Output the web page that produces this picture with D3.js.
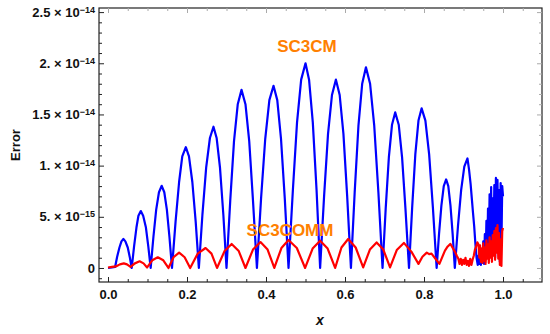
<!DOCTYPE html>
<html><head><meta charset="utf-8">
<script src="https://cdn.jsdelivr.net/npm/d3@7"></script>
<style>
html,body{margin:0;padding:0;background:#fff;}
svg{display:block;font-family:"Liberation Sans",Arial,sans-serif;}
</style></head>
<body><svg id="chart" width="550" height="334"></svg>
<script>
// ---- data (errors in units of 1e-15) ----
const xTickValues = [0, 0.2, 0.4, 0.6, 0.8, 1.0];
const xTickLabels = ["0.0", "0.2", "0.4", "0.6", "0.8", "1.0"];
const xMinorValues = [0.05,0.1,0.15,0.25,0.3,0.35,0.45,0.5,0.55,0.65,0.7,0.75,0.85,0.9,0.95,1.05];
const yTickValues = [0, 5, 10, 15, 20, 25];
const yTickMantissa = ["0", "5.", "1.", "1.5", "2.", "2.5"];
const yTickExponent = ["", "−15", "−14", "−14", "−14", "−14"];
const yMinorValues = [-1,1,2,3,4,6,7,8,9,11,12,13,14,16,17,18,19,21,22,23,24];
const seriesNames = ["SC3CM", "SC3COMM"];

const sc3cmX = [0,0.010,0.018,0.023,0.029,0.034,0.039,0.044,0.050,0.055,0.060,
 0.066,0.072,0.077,0.083,0.089,0.096,0.102,0.108,
 0.115,0.122,0.129,0.136,0.1425,0.149,0.1555,0.162,
 0.171,0.180,0.188,0.197,0.205,0.2135,0.222,0.230,
 0.239,0.2485,0.258,0.267,0.275,0.2835,0.292,0.300,
 0.3095,0.319,0.3285,0.338,0.348,0.3575,0.367,0.377,
 0.3875,0.398,0.4085,0.419,0.4285,0.438,0.4475,0.457,
 0.468,0.4785,0.489,0.500,0.509,0.5185,0.528,0.537,
 0.547,0.557,0.567,0.577,0.5865,0.596,0.6055,0.615,
 0.6245,0.634,0.6435,0.653,0.6635,0.674,0.6845,0.695,
 0.703,0.711,0.719,0.727,0.736,0.7445,0.753,0.762,
 0.770,0.778,0.786,0.794,0.8035,0.813,0.8225,0.832,
 0.838,0.844,0.850,0.856,0.8615,0.867,0.8725,0.878,
 0.886,0.894,0.902,0.910,0.914,0.918,0.921,0.924,0.927,0.930,0.933,0.936,
 0.938,0.940,0.942,0.944,0.946,0.948,0.950,0.952,0.954,0.956,0.958,0.960,0.962,0.964,0.966,0.968,
 0.970,0.972,0.974,0.976,0.978,0.980,0.982,0.984,0.986,0.988,0.990,0.992,0.994,0.996,0.998,1.000];
const sc3cmY = [0,0.05,0.1,1.08,2.0,2.6,2.83,2.6,2.0,1.08,0,
 2.1,3.95,5.1,5.56,5.1,3.95,2.1,0,
 3.05,5.7,7.4,8.03,7.4,5.7,3.05,0,
 4.5,8.4,10.9,11.8,10.9,8.4,4.5,0,
 5.2,9.8,12.7,13.8,12.7,9.8,5.2,0,
 6.6,12.4,16.0,17.4,16.0,12.4,6.6,0,
 6.8,12.6,16.4,17.8,16.4,12.6,6.8,0,
 7.6,14.2,18.4,20.0,18.4,14.2,7.6,0,
 7.0,13.1,16.9,18.4,16.9,13.1,7.0,0,
 7.4,13.9,18.0,19.6,18.0,13.9,7.4,0,
 5.8,10.8,14.0,15.2,14.0,10.8,5.8,0,
 5.9,11.1,14.4,15.6,14.4,11.1,5.9,0,
 3.3,6.1,8.0,8.65,8.0,6.1,3.3,0,
 4.1,7.6,9.9,10.7,9.6,8.2,6.8,5.4,4.1,2.4,1.0,0.3,
 1.2,0.4,2.0,0.3,1.5,0.5,2.6,0.4,3.3,0.8,4.6,1.0,5.8,1.5,7.2,2.0,
 7.9,1.2,6.8,2.5,8.1,1.0,8.8,3.0,8.6,1.8,7.6,0.6,8.3,2.2,8.0,7.0];

const sc3commX = [0,0.010,0.020,0.030,0.040,0.048,0.057,0.068,0.080,0.090,0.099,
 0.112,0.126,0.140,0.153,0.166,0.180,0.194,0.208,0.227,0.247,0.262,0.276,
 0.295,0.313,0.331,0.348,0.367,0.386,0.404,0.421,0.439,0.457,0.478,0.499,
 0.518,0.537,0.556,0.575,0.591,0.608,0.627,0.646,0.663,0.680,0.697,0.714,
 0.731,0.749,0.768,0.786,0.796,0.807,0.813,0.819,0.829,0.839,
 0.853,0.860,0.867,0.872,0.878,0.883,0.887,
 0.890,0.893,0.896,0.899,0.902,0.905,0.908,0.911,0.914,0.917,0.920,0.923,0.926,0.929,0.932,0.935,0.938,
 0.940,0.942,0.944,0.946,0.948,0.950,0.952,0.954,0.956,0.958,0.960,0.962,0.964,0.966,0.968,0.970,
 0.972,0.974,0.976,0.978,0.980,0.982,0.984,0.986,0.988,0.990,0.992,0.994,0.996,0.998,1.000];
const sc3commY = [0.05,0.1,0.15,0.35,0.45,0.35,0.1,0.45,0.65,0.45,0.05,
 0.75,1.04,0.75,0.0,1.05,1.5,1.05,0,1.4,1.95,1.4,0,
 1.65,2.34,1.65,0,1.8,2.53,1.8,0,1.95,2.73,1.95,0,
 1.9,2.67,1.9,0,2.0,2.83,2.0,0.05,1.8,2.5,1.8,0.05,
 1.75,2.45,1.6,0.4,1.1,1.5,1.35,1.4,0.9,0.4,
 1.7,2.1,2.35,2.0,1.6,1.2,0.9,
 0.4,0.9,0.3,0.8,0.4,1.0,0.3,0.7,0.2,0.9,0.3,0.8,1.2,1.8,2.1,2.5,2.3,
 1.0,2.2,0.6,1.9,0.5,2.4,0.7,2.0,0.4,2.7,0.9,2.3,0.5,3.0,1.0,2.6,
 0.6,3.2,1.2,3.6,0.8,3.9,1.5,4.2,0.9,3.4,0.3,2.8,0.2,3.6,3.9];

// ---- layout ----
const svg = d3.select("#chart");
const L = 99, R = 542, T = 8, B = 282;
const x = d3.scaleLinear().domain([-0.0228, 1.0987]).range([L, R]);
const y = d3.scaleLinear().domain([-1.37, 25.4]).range([B, T]);
const fs = 13;

// frame
svg.append("rect").attr("x", L).attr("y", T).attr("width", R - L).attr("height", B - T)
  .attr("fill", "none").attr("stroke", "#222").attr("stroke-width", 1.2);

function styleAxis(g, col) {
  g.select(".domain").remove();
  g.selectAll("line").attr("stroke", col);
}
// top & right light ticks
svg.append("g").attr("transform", `translate(0,${T})`)
  .call(d3.axisTop(x).tickValues(xTickValues).tickSize(-5).tickFormat(""))
  .call(g => styleAxis(g, "#aaa"));
svg.append("g").attr("transform", `translate(0,${T})`)
  .call(d3.axisTop(x).tickValues(xMinorValues).tickSize(-3).tickFormat(""))
  .call(g => styleAxis(g, "#aaa"));
svg.append("g").attr("transform", `translate(${R},0)`)
  .call(d3.axisRight(y).tickValues(yTickValues).tickSize(-5).tickFormat(""))
  .call(g => styleAxis(g, "#aaa"));
svg.append("g").attr("transform", `translate(${R},0)`)
  .call(d3.axisRight(y).tickValues(yMinorValues).tickSize(-3).tickFormat(""))
  .call(g => styleAxis(g, "#aaa"));

// bottom axis
const gx = svg.append("g").attr("transform", `translate(0,${B})`)
  .call(d3.axisBottom(x).tickValues(xTickValues).tickSize(-5).tickPadding(8)
    .tickFormat((d, i) => xTickLabels[i]));
styleAxis(gx, "#222");
gx.selectAll("text").attr("font-size", fs).attr("font-weight", "bold").attr("fill", "#111")
  .attr("font-family", "'Liberation Sans',Arial,sans-serif");
svg.append("g").attr("transform", `translate(0,${B})`)
  .call(d3.axisBottom(x).tickValues(xMinorValues).tickSize(-3).tickFormat(""))
  .call(g => styleAxis(g, "#222"));

// left axis
const gy = svg.append("g").attr("transform", `translate(${L},0)`)
  .call(d3.axisLeft(y).tickValues(yTickValues).tickSize(-5).tickPadding(4).tickFormat(""));
styleAxis(gy, "#222");
gy.selectAll("text").each(function(d, i) {
  const t = d3.select(this).text(null).attr("font-size", fs).attr("font-weight", "bold")
    .attr("fill", "#111").attr("font-family", "'Liberation Sans',Arial,sans-serif");
  if (yTickExponent[i] === "") { t.text(yTickMantissa[i]); return; }
  t.append("tspan").text(yTickMantissa[i] + " × 10");
  t.append("tspan").attr("dy", "-0.45em").attr("font-size", 9).text(yTickExponent[i]);
});
svg.append("g").attr("transform", `translate(${L},0)`)
  .call(d3.axisLeft(y).tickValues(yMinorValues).tickSize(-3).tickFormat(""))
  .call(g => styleAxis(g, "#222"));

// axis titles
svg.append("text").attr("x", 320).attr("y", 325).attr("text-anchor", "middle")
  .attr("font-size", 14).attr("font-weight", "bold").attr("font-style", "italic").attr("fill", "#111")
  .text("x");
svg.append("text").attr("transform", "translate(20,145) rotate(-90)").attr("text-anchor", "middle")
  .attr("font-size", fs).attr("font-weight", "bold").attr("fill", "#111").text("Error");

// lines
const clip = svg.append("clipPath").attr("id", "clip").append("rect")
  .attr("x", L).attr("y", T).attr("width", R - L).attr("height", B - T);
const line = d3.line().x(d => x(d[0])).y(d => y(d[1]));
const blueData = sc3cmX.map((v, i) => [v, sc3cmY[i]]);
const redData = sc3commX.map((v, i) => [v, sc3commY[i]]);
svg.append("path").datum(blueData).attr("d", line).attr("fill", "none")
  .attr("stroke", "#0000ff").attr("stroke-width", 2.2).attr("stroke-linejoin", "round")
  .attr("clip-path", "url(#clip)");
svg.append("path").datum(redData).attr("d", line).attr("fill", "none")
  .attr("stroke", "#ff0000").attr("stroke-width", 2.2).attr("stroke-linejoin", "round")
  .attr("clip-path", "url(#clip)");

// series labels
svg.append("text").attr("x", 307).attr("y", 52).attr("text-anchor", "middle")
  .attr("font-size", 17).attr("font-weight", "bold").attr("fill", "#ff8000").text(seriesNames[0]);
svg.append("text").attr("x", 290).attr("y", 236).attr("text-anchor", "middle")
  .attr("font-size", 17).attr("font-weight", "bold").attr("fill", "#ff8000").text(seriesNames[1]);
</script></body></html>
